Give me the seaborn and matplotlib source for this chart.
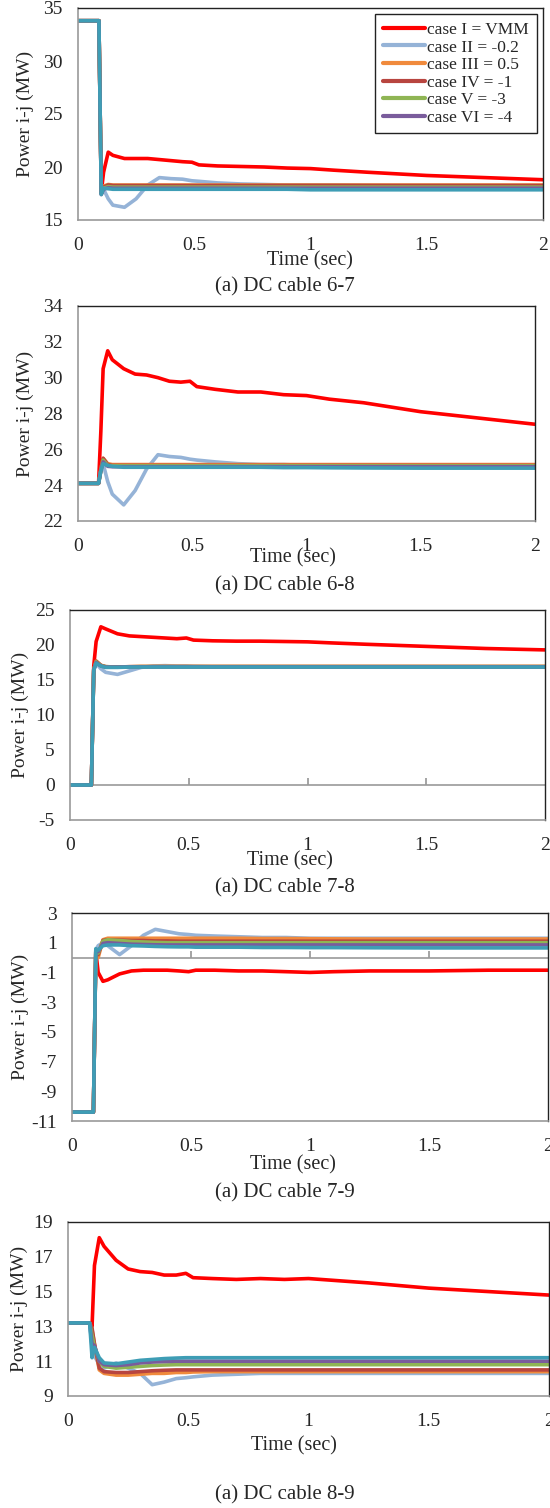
import numpy as np
import pandas as pd
import matplotlib
matplotlib.use("Agg")
import matplotlib.pyplot as plt
import seaborn as sns
from matplotlib.lines import Line2D

# time samples (sec)
t = [0, 0.09, 0.1, 0.11, 0.13, 0.15, 0.2, 0.25, 0.3, 0.35, 0.4, 0.45,
     0.49, 0.52, 0.6, 0.7, 0.8, 0.9, 1.0, 1.1, 1.25, 1.5, 1.75, 2.0]

cases = ["case I = VMM", "case II = -0.2", "case III = 0.5", "case IV = -1",
         "case V = -3", "case VI = -4", "case VII"]

# DC cable 6-7
p67_I = [33.8, 33.8, 17.6, 19.5, 21.4, 21.1, 20.8, 20.8, 20.8, 20.7, 20.6, 20.5,
         20.45, 20.2, 20.1, 20.05, 20.0, 19.9, 19.85, 19.7, 19.5, 19.2, 19.0, 18.8]
p67_II = [33.8, 33.8, 17.5, 17.9, 17.0, 16.4, 16.2, 17.0, 18.3, 19.0, 18.9, 18.85,
          18.7, 18.65, 18.5, 18.4, 18.35, 18.3, 18.3, 18.3, 18.25, 18.2, 18.2, 18.2]
p67_III = [33.8, 33.8, 17.5, 18.2, 18.35, 18.3, 18.3, 18.3, 18.3, 18.3, 18.3, 18.3,
           18.3, 18.3, 18.3, 18.3, 18.3, 18.3, 18.3, 18.3, 18.3, 18.3, 18.3, 18.3]
p67_IV = [33.8, 33.8, 17.5, 18.1, 18.3, 18.25, 18.25, 18.25, 18.25, 18.25, 18.25, 18.25,
          18.25, 18.25, 18.25, 18.25, 18.25, 18.25, 18.25, 18.25, 18.25, 18.25, 18.25, 18.25]
p67_V = [33.8, 33.8, 17.5, 18.0, 18.15, 18.1, 18.1, 18.1, 18.1, 18.1, 18.1, 18.1,
         18.1, 18.1, 18.1, 18.1, 18.1, 18.1, 18.1, 18.1, 18.1, 18.1, 18.1, 18.1]
p67_VI = [33.8, 33.8, 17.4, 17.9, 18.05, 18.0, 18.0, 18.0, 18.0, 18.0, 18.0, 18.0,
          18.0, 18.0, 18.0, 18.0, 18.0, 18.0, 18.0, 18.0, 18.0, 18.0, 18.0, 18.0]
p67_VII = [33.8, 33.8, 17.4, 18.0, 17.95, 17.9, 17.9, 17.9, 17.9, 17.9, 17.9, 17.9,
           17.9, 17.9, 17.9, 17.9, 17.9, 17.9, 17.85, 17.85, 17.85, 17.85, 17.85, 17.85]

# DC cable 6-8
p68_I = [24.1, 24.1, 27.0, 30.5, 31.5, 31.0, 30.5, 30.2, 30.15, 30.0, 29.8, 29.75,
         29.8, 29.5, 29.35, 29.2, 29.2, 29.05, 29.0, 28.8, 28.6, 28.1, 27.75, 27.4]
p68_II = [24.1, 24.1, 24.8, 25.2, 24.2, 23.5, 22.9, 23.7, 24.9, 25.7, 25.6, 25.55,
          25.45, 25.4, 25.3, 25.2, 25.15, 25.15, 25.1, 25.1, 25.1, 25.1, 25.1, 25.1]
p68_III = [24.1, 24.1, 24.9, 25.5, 25.2, 25.15, 25.15, 25.15, 25.15, 25.15, 25.15, 25.15,
           25.15, 25.15, 25.15, 25.15, 25.15, 25.15, 25.15, 25.15, 25.15, 25.15, 25.15, 25.15]
p68_IV = [24.1, 24.1, 24.9, 25.5, 25.15, 25.1, 25.1, 25.1, 25.1, 25.1, 25.1, 25.1,
          25.1, 25.1, 25.1, 25.1, 25.1, 25.1, 25.1, 25.1, 25.1, 25.1, 25.1, 25.1]
p68_V = [24.1, 24.1, 24.8, 25.4, 25.1, 25.08, 25.08, 25.08, 25.08, 25.08, 25.08, 25.08,
         25.08, 25.08, 25.08, 25.08, 25.08, 25.08, 25.08, 25.08, 25.08, 25.08, 25.08, 25.08]
p68_VI = [24.1, 24.1, 24.8, 25.3, 25.05, 25.03, 25.03, 25.03, 25.03, 25.03, 25.03, 25.03,
          25.03, 25.03, 25.03, 25.03, 25.03, 25.03, 25.03, 25.03, 25.03, 25.03, 25.03, 25.03]
p68_VII = [24.1, 24.1, 24.8, 25.2, 25.1, 25.05, 25.0, 25.0, 25.0, 25.0, 25.0, 25.0,
           25.0, 25.0, 25.0, 25.0, 25.0, 24.98, 24.98, 24.97, 24.96, 24.95, 24.95, 24.95]

# DC cable 7-8
p78_I = [0, 0, 17.0, 20.5, 22.6, 22.3, 21.6, 21.3, 21.2, 21.1, 21.0, 20.9,
         21.0, 20.7, 20.6, 20.55, 20.55, 20.5, 20.45, 20.3, 20.1, 19.8, 19.5, 19.3]
p78_II = [0, 0, 16.5, 17.4, 16.6, 16.1, 15.8, 16.3, 16.8, 17.0, 17.05, 17.0,
          17.0, 16.95, 16.9, 16.9, 16.9, 16.9, 16.9, 16.9, 16.9, 16.9, 16.9, 16.9]
p78_III = [0, 0, 16.5, 17.7, 17.1, 16.9, 16.85, 16.9, 16.95, 16.95, 16.95, 16.95,
           16.95, 16.95, 16.95, 16.95, 16.95, 16.95, 16.95, 16.95, 16.95, 16.95, 16.95, 16.95]
p78_IV = [0, 0, 16.5, 17.7, 17.1, 16.9, 16.85, 16.9, 16.9, 16.9, 16.9, 16.9,
          16.9, 16.9, 16.9, 16.9, 16.9, 16.9, 16.9, 16.9, 16.9, 16.9, 16.9, 16.9]
p78_V = [0, 0, 16.5, 17.6, 17.05, 16.9, 16.85, 16.88, 16.9, 16.9, 16.9, 16.9,
         16.9, 16.9, 16.9, 16.9, 16.9, 16.9, 16.9, 16.9, 16.9, 16.9, 16.9, 16.9]
p78_VI = [0, 0, 16.4, 17.5, 17.0, 16.85, 16.85, 16.88, 16.88, 16.88, 16.88, 16.88,
          16.88, 16.88, 16.88, 16.88, 16.88, 16.88, 16.88, 16.88, 16.88, 16.88, 16.88, 16.88]
p78_VII = [0, 0, 16.4, 17.4, 17.0, 16.8, 16.8, 16.85, 16.85, 16.85, 16.85, 16.85,
           16.85, 16.85, 16.85, 16.85, 16.85, 16.85, 16.85, 16.85, 16.85, 16.85, 16.85, 16.85]

# DC cable 7-9
p79_I = [-10.4, -10.4, 0.4, -1.0, -1.6, -1.5, -1.1, -0.9, -0.85, -0.85, -0.85, -0.9,
         -0.95, -0.85, -0.85, -0.9, -0.9, -0.95, -1.0, -0.95, -0.9, -0.9, -0.85, -0.85]
p79_II = [-10.4, -10.4, 0.5, 0.8, 1.0, 0.8, 0.2, 0.8, 1.5, 1.9, 1.75, 1.6,
          1.55, 1.5, 1.45, 1.4, 1.35, 1.35, 1.3, 1.3, 1.3, 1.3, 1.3, 1.3]
p79_III = [-10.4, -10.4, 0.4, 0.0, 1.2, 1.3, 1.3, 1.3, 1.3, 1.3, 1.3, 1.3,
           1.3, 1.3, 1.3, 1.3, 1.28, 1.28, 1.27, 1.26, 1.25, 1.25, 1.25, 1.25]
p79_IV = [-10.4, -10.4, 0.4, 0.2, 1.15, 1.2, 1.18, 1.15, 1.15, 1.12, 1.12, 1.1,
          1.1, 1.1, 1.1, 1.1, 1.1, 1.1, 1.1, 1.1, 1.1, 1.1, 1.1, 1.1]
p79_V = [-10.4, -10.4, 0.4, 0.3, 1.1, 1.2, 1.15, 1.08, 1.05, 1.02, 1.0, 1.0,
         1.0, 1.0, 1.0, 1.0, 1.0, 1.0, 1.0, 1.0, 1.0, 1.0, 1.0, 1.0]
p79_VI = [-10.4, -10.4, 0.5, 0.4, 0.95, 1.0, 0.95, 0.9, 0.88, 0.86, 0.85, 0.85,
          0.85, 0.85, 0.85, 0.85, 0.85, 0.85, 0.85, 0.85, 0.85, 0.85, 0.85, 0.85]
p79_VII = [-10.4, -10.4, 0.6, 0.5, 0.8, 0.85, 0.85, 0.8, 0.78, 0.75, 0.73, 0.72,
           0.72, 0.7, 0.7, 0.7, 0.68, 0.68, 0.67, 0.67, 0.66, 0.65, 0.65, 0.65]

# DC cable 8-9
p89_I = [13.2, 13.2, 13.0, 16.5, 18.1, 17.6, 16.8, 16.3, 16.15, 16.1, 15.95, 15.95,
         16.05, 15.8, 15.75, 15.7, 15.75, 15.7, 15.75, 15.65, 15.5, 15.2, 15.0, 14.8]
p89_II = [13.2, 13.2, 11.8, 11.3, 10.8, 10.6, 10.9, 10.6, 10.3, 9.65, 9.8, 10.0,
          10.05, 10.1, 10.2, 10.25, 10.3, 10.3, 10.3, 10.3, 10.3, 10.3, 10.3, 10.3]
p89_III = [13.2, 13.2, 12.8, 12.0, 10.5, 10.3, 10.2, 10.2, 10.25, 10.3, 10.3, 10.35,
           10.35, 10.38, 10.4, 10.4, 10.4, 10.4, 10.4, 10.4, 10.4, 10.4, 10.4, 10.4]
p89_IV = [13.2, 13.2, 12.9, 12.0, 10.6, 10.4, 10.35, 10.35, 10.4, 10.45, 10.48, 10.5,
          10.5, 10.5, 10.5, 10.5, 10.5, 10.5, 10.5, 10.5, 10.5, 10.5, 10.5, 10.5]
p89_V = [13.2, 13.2, 12.5, 11.8, 11.0, 10.7, 10.6, 10.65, 10.7, 10.75, 10.78, 10.8,
         10.8, 10.8, 10.8, 10.8, 10.8, 10.8, 10.8, 10.8, 10.8, 10.8, 10.8, 10.8]
p89_VI = [13.2, 13.2, 12.0, 11.9, 11.0, 10.8, 10.75, 10.8, 10.9, 10.95, 10.98, 11.0,
          11.0, 11.0, 11.0, 11.0, 11.0, 11.0, 11.0, 11.0, 11.0, 11.0, 11.0, 11.0]
p89_VII = [13.2, 13.2, 11.2, 11.8, 11.2, 10.9, 10.85, 10.95, 11.05, 11.1, 11.15, 11.18,
           11.2, 11.2, 11.2, 11.2, 11.2, 11.2, 11.2, 11.2, 11.2, 11.2, 11.2, 11.2]

colors = ["#FF0000", "#95B3D7", "#F08A3C", "#B8453F", "#8FB554", "#7A5C9C", "#3E9DB5"]

panels = [
    ("(a) DC cable 6-7", [p67_I, p67_II, p67_III, p67_IV, p67_V, p67_VI, p67_VII], (15, 35), np.arange(15, 36, 5)),
    ("(a) DC cable 6-8", [p68_I, p68_II, p68_III, p68_IV, p68_V, p68_VI, p68_VII], (22, 34), np.arange(22, 35, 2)),
    ("(a) DC cable 7-8", [p78_I, p78_II, p78_III, p78_IV, p78_V, p78_VI, p78_VII], (-5, 25), np.arange(-5, 26, 5)),
    ("(a) DC cable 7-9", [p79_I, p79_II, p79_III, p79_IV, p79_V, p79_VI, p79_VII], (-11, 3), np.arange(-11, 4, 2)),
    ("(a) DC cable 8-9", [p89_I, p89_II, p89_III, p89_IV, p89_V, p89_VI, p89_VII], (9, 19), np.arange(9, 20, 2)),
]

# pixel boxes (left, top, right, bottom), time label (x, y), ylabel x, caption y
boxes = [(78, 8, 543, 220, 310, 261, 25, 287), (78, 306, 535, 521, 293, 558, 25, 586),
         (70, 610, 545, 820, 290, 861, 20, 888), (72, 913, 548, 1121, 293, 1165, 20, 1193),
         (68, 1222, 549, 1396, 294, 1446, 19, 1495)]

W, H = 550, 1508
sns.set_theme(style="white")
plt.rcParams['font.family'] = ['Liberation Serif', 'DejaVu Serif']
plt.rcParams['axes.unicode_minus'] = False
fig = plt.figure(figsize=(W / 100, H / 100), dpi=100)
palette = dict(zip(cases, colors))

for (caption, series, ylim, yticks), (l, tp, r, b, tx, ty, yx, cy) in zip(panels, boxes):
    ax = fig.add_axes([l / W, 1 - b / H, (r - l) / W, (b - tp) / H])
    df = pd.DataFrame({
        "t": np.tile(t, len(cases)),
        "p": np.concatenate(series),
        "case": np.repeat(cases, len(t)),
    })
    sns.lineplot(data=df, x="t", y="p", hue="case", palette=palette, estimator=None,
                 linewidth=2.6, legend=False, ax=ax)
    ax.set_xlim(0, 2)
    ax.set_ylim(*ylim)
    ax.set_yticks(yticks)
    ax.set_xticks([0, 0.5, 1, 1.5, 2])
    ax.set_xticklabels(["0", "0.5", "1", "1.5", "2"])
    ax.set_xlabel("")
    ax.set_ylabel("Power i-j (MW)", fontsize=14)
    ax.yaxis.set_label_coords(-(l - yx) / (r - l), 0.5)
    ax.yaxis.label.set_va("center")
    ax.tick_params(axis="y", length=0, labelsize=14, pad=11)
    for s in ["top", "right"]:
        ax.spines[s].set_color("#222222")
        ax.spines[s].set_linewidth(1)
    for s in ["left", "bottom"]:
        ax.spines[s].set_color("#999999")
        ax.spines[s].set_linewidth(1.2)
    if ylim[0] < 0:
        # x axis crosses at zero
        frac = -ylim[0] / (ylim[1] - ylim[0])
        ax.axhline(0, color="#999999", lw=1.2, zorder=0)
        ax.tick_params(axis="x", length=0, labelsize=14, pad=12)
        sec = ax.secondary_xaxis(frac)
        sec.set_xticks([0.5, 1, 1.5])
        sec.set_xticklabels([])
        sec.tick_params(direction="in" if frac < 0.5 else "out", length=5, color="#999999")
        for s in sec.spines.values():
            s.set_visible(False)
    else:
        ax.tick_params(axis="x", direction="in", length=5, color="#999999", labelsize=14, pad=12)
    fig.text(tx / W, 1 - ty / H, "Time (sec)", ha="center", va="center", fontsize=14.5)
    fig.text(285 / W, 1 - cy / H, caption, ha="center", va="center", fontsize=15)

    if caption.endswith("6-7"):
        handles = [Line2D([], [], color=c, lw=3) for c in colors[:6]]
        leg = ax.legend(handles, cases[:6], loc="upper right",
                        bbox_to_anchor=((537 - l) / (r - l), 1 - 6 / (b - tp)),
                        fontsize=12.5, frameon=True, fancybox=False, framealpha=1,
                        edgecolor="#222222", handlelength=2.4, handletextpad=0.15,
                        labelspacing=0.08, borderpad=0.45, borderaxespad=0)
        leg.get_frame().set_linewidth(1)

fig.savefig("out.png", dpi=100)
